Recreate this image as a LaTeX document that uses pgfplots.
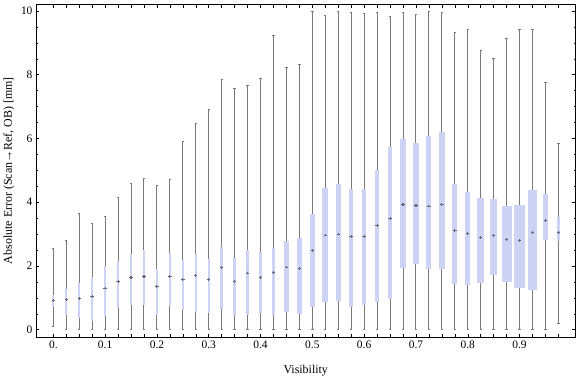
\documentclass[border=0pt]{standalone}
\usepackage{fontspec}
\setmainfont{Liberation Serif}
\usepackage{pgfplots}
\pgfplotsset{compat=1.18}
\usepgfplotslibrary{statistics}
\usetikzlibrary{calc}
\definecolor{boxc}{RGB}{204,211,245}
\definecolor{whc}{RGB}{120,120,120}
\definecolor{medc}{RGB}{105,105,110}
\begin{document}
\begin{tikzpicture}
\begin{axis}[
  name=ax,
  at={(0,0)}, anchor=south west,
  width=540bp, height=333bp, scale only axis,
  xmin=-1.34, xmax=40.32, ymin=-0.229, ymax=10.21,
  axis line style={black, line width=0.6bp},
  tick align=inside,
  major tick length=3.5bp, minor tick length=2bp,
  every tick/.style={black, line width=0.5bp},
  xtick={0,...,39},
  xticklabels={0.,,,,0.1,,,,0.2,,,,0.3,,,,0.4,,,,0.5,,,,0.6,,,,0.7,,,,0.8,,,,0.9,,,},
  ytick={0,2,4,6,8,10},
  minor ytick={0,0.5,...,10},
  /pgf/number format/assume math mode=true,
  tick label style={font=\fontsize{11.5}{13}\selectfont},
  label style={font=\fontsize{12}{14}\selectfont},
  xlabel={Visibility},
  ylabel={Absolute Error (Scan→Ref, OB) [mm]},
  xlabel style={at={(axis description cs:0.5,-0.1096)}, anchor=base},
  ylabel style={at={(axis description cs:-0.05,0.5)}, anchor=center},
  boxplot/draw direction=y,
  boxplot/whisker extend=0.18,
  boxplot/every box/.style={fill=boxc, draw=none},
  boxplot/every whisker/.style={whc, line width=1bp},
  boxplot/draw/median/.code={},
]
\addplot[boxplot prepared={draw position=0, lower whisker=0.10, lower quartile=0.71, median=0.91, upper quartile=1.10, upper whisker=2.54, box extend=0.13}] coordinates {};
\addplot[boxplot prepared={draw position=1, lower whisker=0.0, lower quartile=0.45, median=0.94, upper quartile=1.29, upper whisker=2.80, box extend=0.18}] coordinates {};
\addplot[boxplot prepared={draw position=2, lower whisker=0.0, lower quartile=0.38, median=0.97, upper quartile=1.47, upper whisker=3.64, box extend=0.13}] coordinates {};
\addplot[boxplot prepared={draw position=3, lower whisker=0.0, lower quartile=0.26, median=1.04, upper quartile=1.66, upper whisker=3.32, box extend=0.13}] coordinates {};
\addplot[boxplot prepared={draw position=4, lower whisker=0.0, lower quartile=0.44, median=1.31, upper quartile=2.01, upper whisker=3.54, box extend=0.13}] coordinates {};
\addplot[boxplot prepared={draw position=5, lower whisker=0.0, lower quartile=0.69, median=1.52, upper quartile=2.16, upper whisker=4.14, box extend=0.13}] coordinates {};
\addplot[boxplot prepared={draw position=6, lower whisker=0.0, lower quartile=0.78, median=1.65, upper quartile=2.39, upper whisker=4.59, box extend=0.20}] coordinates {};
\addplot[boxplot prepared={draw position=7, lower whisker=0.02, lower quartile=0.78, median=1.67, upper quartile=2.49, upper whisker=4.73, box extend=0.20}] coordinates {};
\addplot[boxplot prepared={draw position=8, lower whisker=0.0, lower quartile=0.45, median=1.36, upper quartile=1.91, upper whisker=4.51, box extend=0.20}] coordinates {};
\addplot[boxplot prepared={draw position=9, lower whisker=0.0, lower quartile=0.73, median=1.68, upper quartile=2.42, upper whisker=4.70, box extend=0.18}] coordinates {};
\addplot[boxplot prepared={draw position=10, lower whisker=0.0, lower quartile=0.61, median=1.58, upper quartile=2.19, upper whisker=5.92, box extend=0.18}] coordinates {};
\addplot[boxplot prepared={draw position=11, lower whisker=0.0, lower quartile=0.57, median=1.70, upper quartile=2.36, upper whisker=6.46, box extend=0.18}] coordinates {};
\addplot[boxplot prepared={draw position=12, lower whisker=0.0, lower quartile=0.51, median=1.57, upper quartile=2.23, upper whisker=6.90, box extend=0.18}] coordinates {};
\addplot[boxplot prepared={draw position=13, lower whisker=0.0, lower quartile=0.65, median=1.94, upper quartile=2.58, upper whisker=7.84, box extend=0.26}] coordinates {};
\addplot[boxplot prepared={draw position=14, lower whisker=0.0, lower quartile=0.45, median=1.52, upper quartile=2.26, upper whisker=7.58, box extend=0.23}] coordinates {};
\addplot[boxplot prepared={draw position=15, lower whisker=0.0, lower quartile=0.45, median=1.78, upper quartile=2.51, upper whisker=7.67, box extend=0.26}] coordinates {};
\addplot[boxplot prepared={draw position=16, lower whisker=0.0, lower quartile=0.51, median=1.64, upper quartile=2.45, upper whisker=7.89, box extend=0.26}] coordinates {};
\addplot[boxplot prepared={draw position=17, lower whisker=0.0, lower quartile=0.46, median=1.80, upper quartile=2.57, upper whisker=9.22, box extend=0.28}] coordinates {};
\addplot[boxplot prepared={draw position=18, lower whisker=0.0, lower quartile=0.54, median=1.97, upper quartile=2.78, upper whisker=8.24, box extend=0.33}] coordinates {};
\addplot[boxplot prepared={draw position=19, lower whisker=0.0, lower quartile=0.48, median=1.92, upper quartile=2.87, upper whisker=8.33, box extend=0.39}] coordinates {};
\addplot[boxplot prepared={draw position=20, lower whisker=0.0, lower quartile=0.71, median=2.49, upper quartile=3.64, upper whisker=9.99, box extend=0.41}] coordinates {};
\addplot[boxplot prepared={draw position=21, lower whisker=0.0, lower quartile=0.86, median=2.97, upper quartile=4.46, upper whisker=9.86, box extend=0.49}] coordinates {};
\addplot[boxplot prepared={draw position=22, lower whisker=0.0, lower quartile=0.89, median=3.00, upper quartile=4.56, upper whisker=9.99, box extend=0.41}] coordinates {};
\addplot[boxplot prepared={draw position=23, lower whisker=0.0, lower quartile=0.70, median=2.93, upper quartile=4.40, upper whisker=9.96, box extend=0.33}] coordinates {};
\addplot[boxplot prepared={draw position=24, lower whisker=0.0, lower quartile=0.79, median=2.93, upper quartile=4.43, upper whisker=9.93, box extend=0.36}] coordinates {};
\addplot[boxplot prepared={draw position=25, lower whisker=0.0, lower quartile=0.86, median=3.27, upper quartile=5.02, upper whisker=9.96, box extend=0.36}] coordinates {};
\addplot[boxplot prepared={draw position=26, lower whisker=0.0, lower quartile=0.95, median=3.48, upper quartile=5.72, upper whisker=9.83, box extend=0.36}] coordinates {};
\addplot[boxplot prepared={draw position=27, lower whisker=0.0, lower quartile=1.95, median=3.93, upper quartile=5.99, upper whisker=9.96, box extend=0.39}] coordinates {};
\addplot[boxplot prepared={draw position=28, lower whisker=0.0, lower quartile=2.05, median=3.90, upper quartile=5.87, upper whisker=9.90, box extend=0.41}] coordinates {};
\addplot[boxplot prepared={draw position=29, lower whisker=0.0, lower quartile=1.89, median=3.88, upper quartile=6.09, upper whisker=9.99, box extend=0.39}] coordinates {};
\addplot[boxplot prepared={draw position=30, lower whisker=0.0, lower quartile=1.92, median=3.92, upper quartile=6.21, upper whisker=9.96, box extend=0.46}] coordinates {};
\addplot[boxplot prepared={draw position=31, lower whisker=0.0, lower quartile=1.42, median=3.12, upper quartile=4.58, upper whisker=9.33, box extend=0.39}] coordinates {};
\addplot[boxplot prepared={draw position=32, lower whisker=0.0, lower quartile=1.39, median=3.03, upper quartile=4.33, upper whisker=9.43, box extend=0.39}] coordinates {};
\addplot[boxplot prepared={draw position=33, lower whisker=0.0, lower quartile=1.48, median=2.89, upper quartile=4.12, upper whisker=8.77, box extend=0.54}] coordinates {};
\addplot[boxplot prepared={draw position=34, lower whisker=0.0, lower quartile=1.71, median=2.95, upper quartile=4.09, upper whisker=8.52, box extend=0.54}] coordinates {};
\addplot[boxplot prepared={draw position=35, lower whisker=0.0, lower quartile=1.51, median=2.82, upper quartile=3.89, upper whisker=9.14, box extend=0.77}] coordinates {};
\addplot[boxplot prepared={draw position=36, lower whisker=0.0, lower quartile=1.30, median=2.79, upper quartile=3.92, upper whisker=9.43, box extend=0.85}] coordinates {};
\addplot[boxplot prepared={draw position=37, lower whisker=0.0, lower quartile=1.26, median=3.04, upper quartile=4.37, upper whisker=9.43, box extend=0.77}] coordinates {};
\addplot[boxplot prepared={draw position=38, lower whisker=0.0, lower quartile=2.80, median=3.43, upper quartile=4.26, upper whisker=7.76, box extend=0.39}] coordinates {};
\addplot[boxplot prepared={draw position=39, lower whisker=0.21, lower quartile=2.77, median=3.06, upper quartile=3.55, upper whisker=5.85, box extend=0.23}] coordinates {};
% medians
\addplot[only marks, mark=-, mark size=1.7bp, mark options={medc, line width=0.8bp}] coordinates {
(0,0.91) (1,0.94) (2,0.97) (3,1.04) (4,1.31) (5,1.52) (6,1.65) (7,1.67) (8,1.36) (9,1.68)
(10,1.58) (11,1.70) (12,1.57) (13,1.94) (14,1.52) (15,1.78) (16,1.64) (17,1.80) (18,1.97) (19,1.92)
(20,2.49) (21,2.97) (22,3.00) (23,2.93) (24,2.93) (25,3.27) (26,3.48) (27,3.93) (28,3.90) (29,3.88)
(30,3.92) (31,3.12) (32,3.03) (33,2.89) (34,2.95) (35,2.82) (36,2.79) (37,3.04) (38,3.43) (39,3.06)};
\addplot[only marks, mark=|, mark size=1.4bp, mark options={medc, line width=1.1bp}] coordinates {
(0,0.91) (1,0.94) (2,0.97) (3,1.04) (4,1.31) (5,1.52) (6,1.65) (7,1.67) (8,1.36) (9,1.68)
(10,1.58) (11,1.70) (12,1.57) (13,1.94) (14,1.52) (15,1.78) (16,1.64) (17,1.80) (18,1.97) (19,1.92)
(20,2.49) (21,2.97) (22,3.00) (23,2.93) (24,2.93) (25,3.27) (26,3.48) (27,3.93) (28,3.90) (29,3.88)
(30,3.92) (31,3.12) (32,3.03) (33,2.89) (34,2.95) (35,2.82) (36,2.79) (37,3.04) (38,3.43) (39,3.06)};
\end{axis}
\pgfresetboundingbox
\path ($(ax.south west)+(-36bp,-39.7bp)$) rectangle ($(ax.north east)+(0.5bp,4.3bp)$);
\end{tikzpicture}
\end{document}
